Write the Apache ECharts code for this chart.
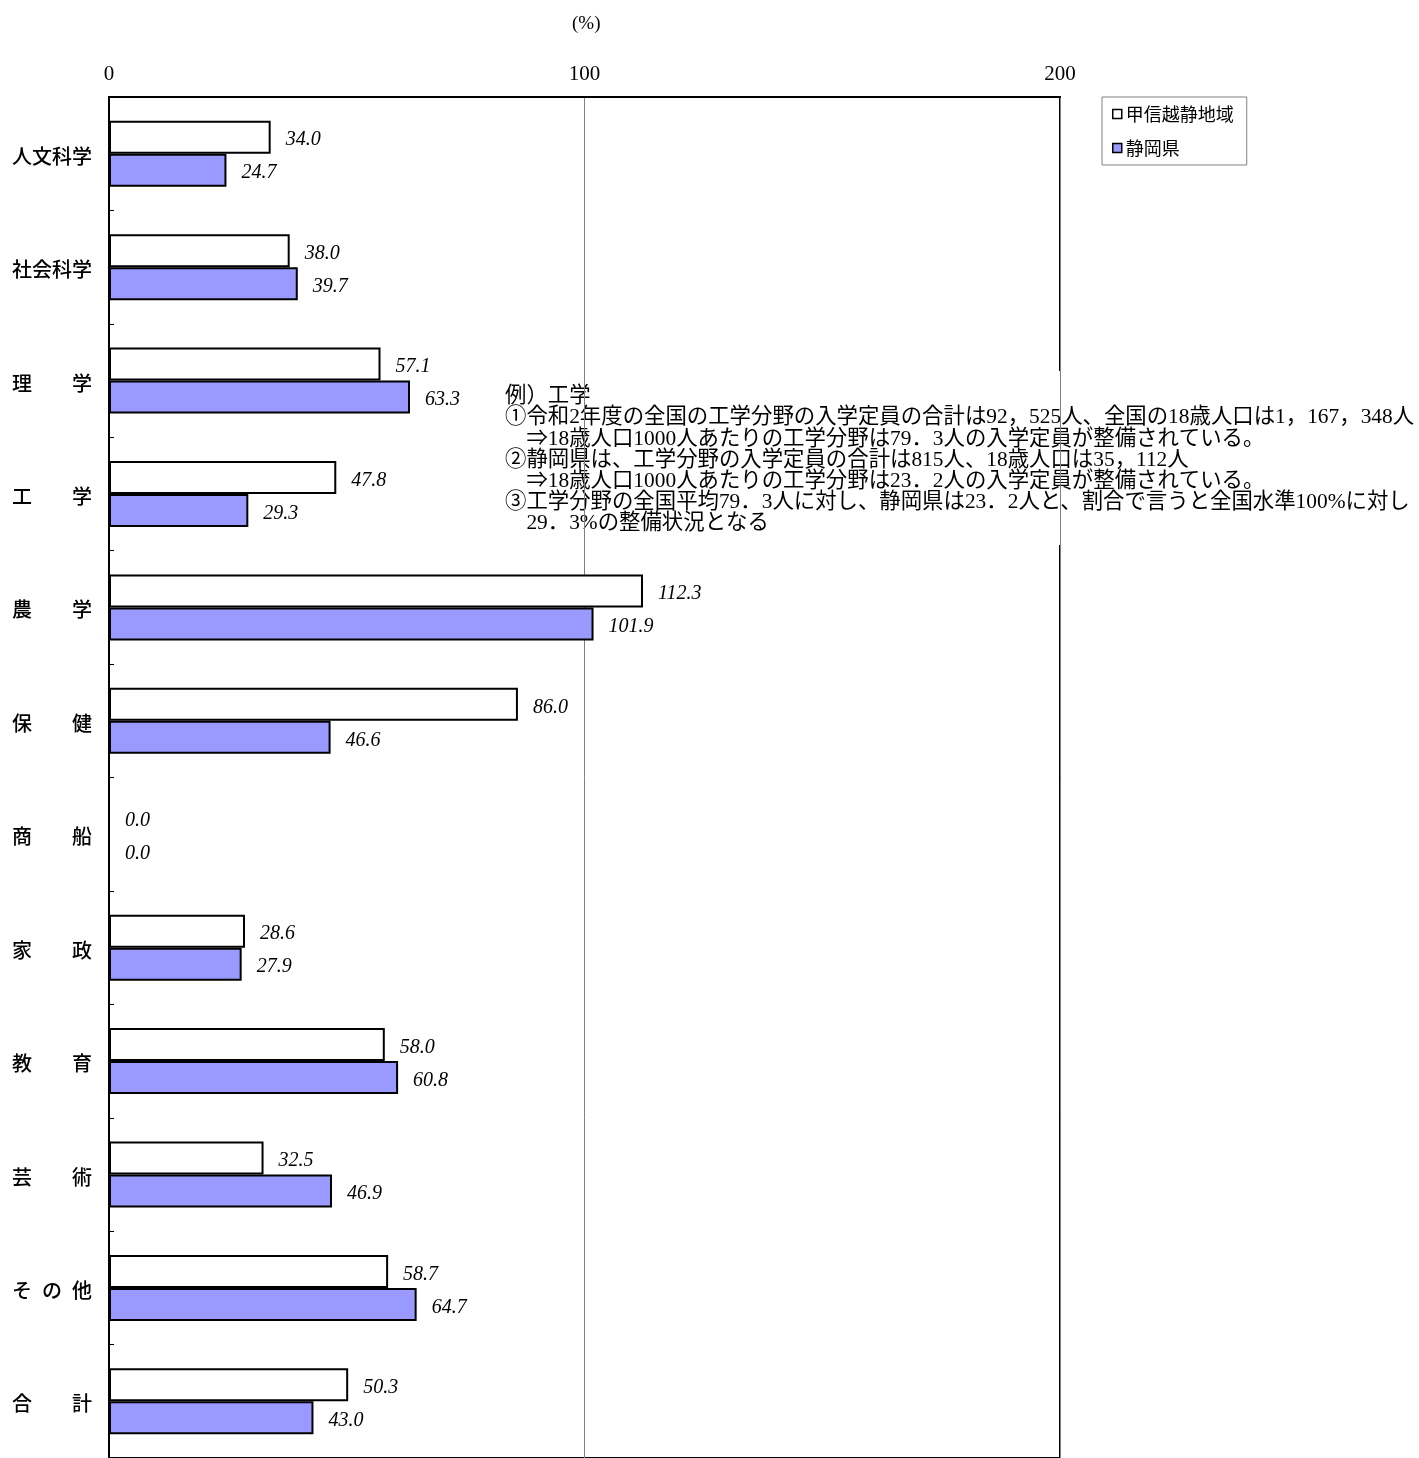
<!DOCTYPE html>
<html>
<head>
<meta charset="utf-8">
<script src="https://cdn.jsdelivr.net/npm/echarts@6/dist/echarts.min.js"></script>
<style>
  html, body { margin: 0; padding: 0; background: #fff; }
  #chart { width: 1419px; height: 1458px; }
</style>
</head>
<body>
<div id="chart"></div>
<script>
// 分野ごとの入学定員整備状況（全国水準＝100%）
const categories = ['人文科学', '社会科学', '理　　学', '工　　学', '農　　学', '保　　健',
  '商　　船', '家　　政', '教　　育', '芸　　術', 'そ\u2002の\u2002他', '合　　計'];
const seriesNames = ['甲信越静地域', '静岡県'];
const regionValues = [34.0, 38.0, 57.1, 47.8, 112.3, 86.0, 0.0, 28.6, 58.0, 32.5, 58.7, 50.3];
const shizuokaValues = [24.7, 39.7, 63.3, 29.3, 101.9, 46.6, 0.0, 27.9, 60.8, 46.9, 64.7, 43.0];
const axisMin = 0, axisMax = 200, axisStep = 100;
const unitLabel = '(%)';
const noteLines = [
  '例）工学',
  '①令和2年度の全国の工学分野の入学定員の合計は92，525人、全国の18歳人口は1，167，348人',
  '　⇒18歳人口1000人あたりの工学分野は79．3人の入学定員が整備されている。',
  '②静岡県は、工学分野の入学定員の合計は815人、18歳人口は35，112人',
  '　⇒18歳人口1000人あたりの工学分野は23．2人の入学定員が整備されている。',
  '③工学分野の全国平均79．3人に対し、静岡県は23．2人と、割合で言うと全国水準100%に対し',
  '　29．3%の整備状況となる'
];

const serif = '"Liberation Serif", "Times New Roman", serif';
const cjk = '"Liberation Serif", "Noto Sans CJK JP", serif';
const gothic = '"Noto Sans CJK JP", sans-serif';

const chart = echarts.init(document.getElementById('chart'), null, { renderer: 'canvas' });

const valueLabel = {
  show: true,
  position: 'right',
  distance: 15,
  offset: [0, 3],
  fontFamily: serif,
  fontStyle: 'italic',
  fontSize: 20,
  color: '#000',
  formatter: p => Number(p.value).toFixed(1)
};

chart.setOption({
  animation: false,
  backgroundColor: '#fff',
  grid: {
    left: 109, top: 97, right: 359, bottom: -2,
    show: true, borderColor: '#000', borderWidth: 2, backgroundColor: 'transparent',
    containLabel: false
  },
  legend: {
    data: seriesNames,
    orient: 'vertical',
    left: 1102, top: 97,
    padding: [8, 13, 8, 10],
    itemGap: 16,
    itemWidth: 9, itemHeight: 9,
    icon: 'rect',
    borderColor: '#808080', borderWidth: 1,
    backgroundColor: '#fff',
    itemStyle: { borderColor: '#000', borderWidth: 1.5 },
    textStyle: { fontFamily: gothic, fontSize: 18, color: '#000', padding: [0, 0, 0, -1] }
  },
  xAxis: {
    type: 'value',
    position: 'top',
    min: axisMin, max: axisMax, interval: axisStep,
    axisLine: { show: true, lineStyle: { color: '#000', width: 2 } },
    axisTick: { show: false },
    splitLine: { show: true, lineStyle: { color: '#808080', width: 1 } },
    axisLabel: { fontFamily: serif, fontSize: 21, color: '#000', margin: 12 }
  },
  yAxis: {
    type: 'category',
    data: categories,
    inverse: true,
    axisLine: { show: true, lineStyle: { color: '#000', width: 2 } },
    axisTick: { show: true, inside: true, length: 5, lineStyle: { color: '#000', width: 1 } },
    axisLabel: {
      margin: 17,
      formatter: v => '{c|' + v + '}',
      rich: {
        c: {
          fontFamily: gothic, fontWeight: 500, fontSize: 20, color: '#000',
          padding: [5, 0, 0, 0]
        }
      }
    },
    splitLine: { show: false }
  },
  series: [
    {
      name: seriesNames[0],
      type: 'bar',
      data: regionValues,
      barWidth: 33,
      barGap: '0%',
      itemStyle: { color: '#ffffff', borderColor: '#000', borderWidth: 2 },
      label: valueLabel
    },
    {
      name: seriesNames[1],
      type: 'bar',
      data: shizuokaValues,
      barWidth: 33,
      barGap: '0%',
      itemStyle: { color: '#9999ff', borderColor: '#000', borderWidth: 2 },
      label: valueLabel
    }
  ],
  graphic: [
    {
      type: 'text',
      left: 572, top: 15, z: 100,
      style: { text: unitLabel, font: '19px ' + serif, fill: '#000' }
    },
    {
      type: 'group',
      left: 500, top: 371, z: 100,
      children: [
        {
          type: 'rect',
          shape: { x: 0, y: 0, width: 919, height: 174 },
          style: { fill: '#fff' }
        },
        {
          type: 'text',
          x: 5, y: 15,
          style: {
            text: noteLines.join('\n'),
            font: '21.4px ' + cjk,
            lineHeight: 21.2,
            fill: '#000'
          }
        }
      ]
    }
  ]
});
</script>
</body>
</html>
